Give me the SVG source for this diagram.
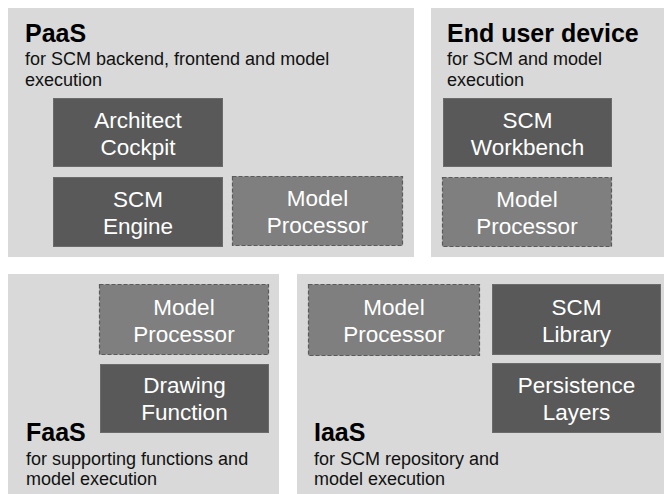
<svg xmlns="http://www.w3.org/2000/svg" width="664" height="494" viewBox="0 0 664 494">
  <style>
    .panel { fill: #d9d9d9; }
    .title { font-family: "Liberation Sans", Arial, sans-serif; font-size: 25px; font-weight: bold; fill: #000000; }
    .sub { font-family: "Liberation Sans", Arial, sans-serif; font-size: 18px; fill: #111111; }
    .box { fill: #595959; stroke: #6b6b6b; stroke-width: 1; }
    .opt { fill: #7f7f7f; stroke: #5a5a5a; stroke-width: 1.2; stroke-dasharray: 4 2; }
    .lbl { font-family: "Liberation Sans", Arial, sans-serif; font-size: 22.5px; fill: #ffffff; text-anchor: middle; }
  </style>
  <rect width="664" height="494" fill="#ffffff"/>

  <!-- Platform as a Service -->
  <g id="paas">
    <rect class="panel" x="8" y="8" width="406" height="249"/>
    <text class="title" x="25" y="42">PaaS</text>
    <text class="sub" x="25" y="65">for SCM backend, frontend and model</text>
    <text class="sub" x="25" y="86">execution</text>
  </g>
  <g id="architect-cockpit">
    <rect class="box" x="53.5" y="98.5" width="169" height="68"/>
    <text class="lbl" x="138" y="128">Architect</text>
    <text class="lbl" x="138" y="155">Cockpit</text>
  </g>
  <g id="scm-engine">
    <rect class="box" x="53.5" y="177.5" width="169" height="69"/>
    <text class="lbl" x="138" y="207">SCM</text>
    <text class="lbl" x="138" y="234">Engine</text>
  </g>
  <g id="paas-model-processor">
    <rect class="opt" x="232.5" y="176.5" width="170" height="69"/>
    <text class="lbl" x="317.5" y="206">Model</text>
    <text class="lbl" x="317.5" y="233">Processor</text>
  </g>

  <!-- End user device -->
  <g id="end-user-device">
    <rect class="panel" x="431" y="8" width="233" height="249"/>
    <text class="title" x="447" y="42">End user device</text>
    <text class="sub" x="447" y="65">for SCM and model</text>
    <text class="sub" x="447" y="86">execution</text>
  </g>
  <g id="scm-workbench">
    <rect class="box" x="443.5" y="98.5" width="168" height="68"/>
    <text class="lbl" x="527.5" y="128">SCM</text>
    <text class="lbl" x="527.5" y="155">Workbench</text>
  </g>
  <g id="device-model-processor">
    <rect class="opt" x="442.5" y="177.5" width="169" height="69"/>
    <text class="lbl" x="527" y="207">Model</text>
    <text class="lbl" x="527" y="234">Processor</text>
  </g>

  <!-- Function as a Service -->
  <g id="faas">
    <rect class="panel" x="8" y="274" width="271" height="220"/>
    <text class="title" x="26" y="441">FaaS</text>
    <text class="sub" x="26" y="465">for supporting functions and</text>
    <text class="sub" x="26" y="485">model execution</text>
  </g>
  <g id="faas-model-processor">
    <rect class="opt" x="99.5" y="284.5" width="169" height="70"/>
    <text class="lbl" x="184" y="315">Model</text>
    <text class="lbl" x="184" y="342">Processor</text>
  </g>
  <g id="drawing-function">
    <rect class="box" x="100.5" y="364.5" width="168" height="68"/>
    <text class="lbl" x="184.5" y="393">Drawing</text>
    <text class="lbl" x="184.5" y="420">Function</text>
  </g>

  <!-- Infrastructure as a Service -->
  <g id="iaas">
    <rect class="panel" x="297" y="274" width="367" height="220"/>
    <text class="title" x="314" y="441">IaaS</text>
    <text class="sub" x="314" y="465">for SCM repository and</text>
    <text class="sub" x="314" y="485">model execution</text>
  </g>
  <g id="iaas-model-processor">
    <rect class="opt" x="308.5" y="284.5" width="171" height="71"/>
    <text class="lbl" x="394" y="315">Model</text>
    <text class="lbl" x="394" y="342">Processor</text>
  </g>
  <g id="scm-library">
    <rect class="box" x="492.5" y="284.5" width="168" height="70"/>
    <text class="lbl" x="576.5" y="315">SCM</text>
    <text class="lbl" x="576.5" y="342">Library</text>
  </g>
  <g id="persistence-layers">
    <rect class="box" x="492.5" y="363.5" width="168" height="69"/>
    <text class="lbl" x="576.5" y="393">Persistence</text>
    <text class="lbl" x="576.5" y="420">Layers</text>
  </g>
</svg>
